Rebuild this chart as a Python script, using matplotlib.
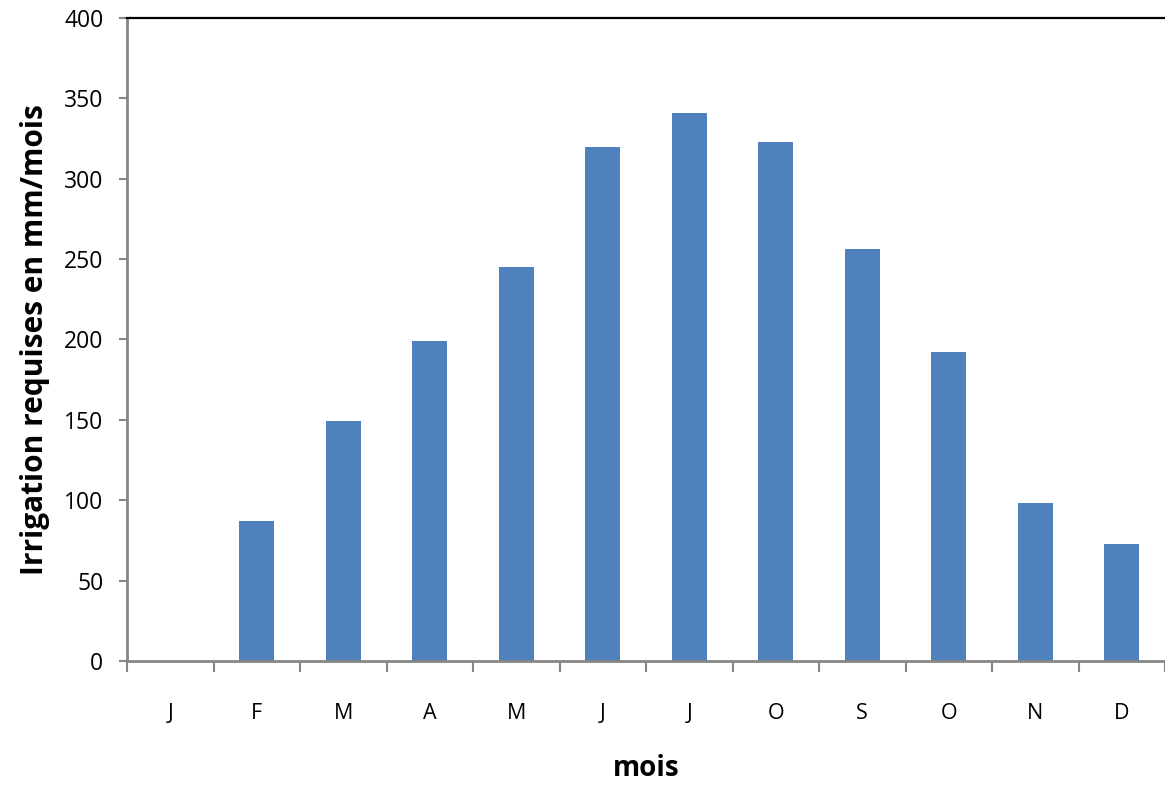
import matplotlib
matplotlib.use("Agg")
import matplotlib.pyplot as plt
import numpy as np

months = ["J", "F", "M", "A", "M", "J", "J", "O", "S", "O", "N", "D"]
irrigation = [0, 87, 149, 199, 245, 320, 341, 323, 256, 192, 98, 73]
yticks = [0, 50, 100, 150, 200, 250, 300, 350, 400]

plt.rcParams['font.family'] = ['Open Sans', 'DejaVu Sans']

fig = plt.figure(figsize=(11.65, 7.86), dpi=100)
ax = fig.add_axes([127/1165, 125/786, 1 - 127/1165, (661-18)/786])

x = np.arange(len(months))
ax.bar(x, irrigation, width=0.4, color="#4F81BD", zorder=2)

ax.set_xlim(-0.5, len(months) - 0.5)
ax.set_ylim(0, 400)
ax.set_yticks(yticks)
ax.set_yticklabels([str(v) for v in yticks], fontsize=16.5)

ax.set_xticks(np.arange(len(months) + 1) - 0.5)
ax.set_xticklabels([])
ax.set_xticks(x, minor=True)
ax.set_xticklabels(months, minor=True, fontsize=15.5)
ax.tick_params(axis='x', which='major', length=8, width=1.5, color="#868686", direction='out')
ax.tick_params(axis='x', which='minor', length=0, pad=30)
ax.tick_params(axis='y', length=6, width=1.5, color="#868686", direction='out', pad=11)

gray = "#868686"
ax.spines['left'].set_color(gray)
ax.spines['left'].set_linewidth(2)
ax.spines['bottom'].set_color(gray)
ax.spines['bottom'].set_linewidth(2)
ax.spines['top'].set_color("black")
ax.spines['top'].set_linewidth(1.6)
ax.spines['right'].set_visible(False)

ax.set_ylabel("Irrigation requises en mm/mois", fontsize=21.5, fontweight='bold', labelpad=10)
ax.set_xlabel("mois", fontsize=20, fontweight='bold', labelpad=22)

fig.savefig("out.png", dpi=100)
